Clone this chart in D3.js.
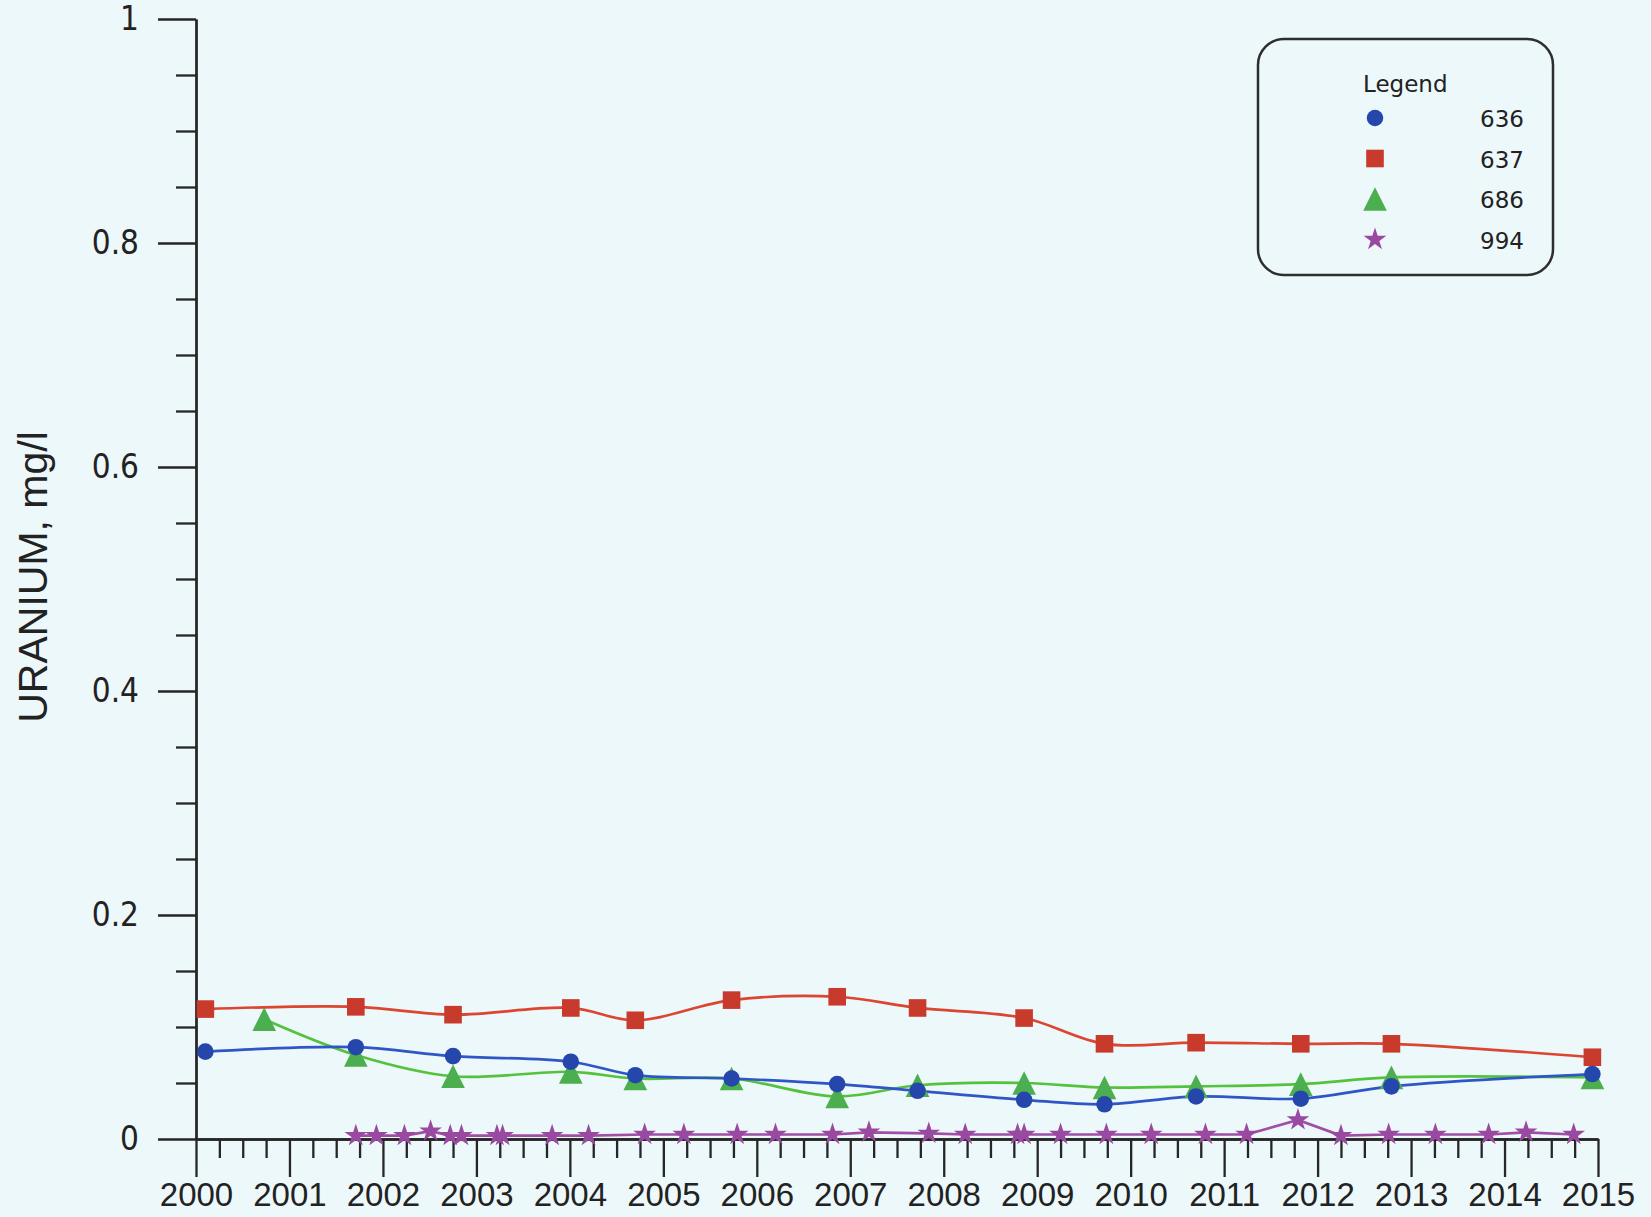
<!DOCTYPE html>
<html>
<head>
<meta charset="utf-8">
<script src="https://cdn.jsdelivr.net/npm/d3@7"></script>
<style>
  html, body { margin: 0; padding: 0; background: #edf8fa; }
  .chart svg { display: block; }
  .axis path, .axis line { stroke: #262626; stroke-width: 2.3; }
  .x-axis text { font-family: "Liberation Sans", Arial, sans-serif; font-size: 33px; fill: #222; }
  .y-axis text { font-family: "DejaVu Sans Condensed", "DejaVu Sans", sans-serif; font-stretch: condensed; font-size: 33px; fill: #222; }
  .legend text { font-family: "DejaVu Sans", sans-serif; font-size: 23px; fill: #222; }
  .title { font-family: "Liberation Sans", Arial, sans-serif; font-size: 41px; fill: #222; }
</style>
</head>
<body>
<div class="chart"></div>
<script>
// sampling dates (decimal years) and uranium values, mg/l
const dates = [2000.10, 2001.71, 2002.75, 2004.01, 2004.70, 2005.73, 2006.86, 2007.72, 2008.86, 2009.72, 2010.70, 2011.82, 2012.79, 2014.94];
const well636 = [0.078, 0.082, 0.074, 0.069, 0.057, 0.054, 0.049, 0.043, 0.035, 0.031, 0.038, 0.036, 0.047, 0.058];
const well637 = [0.116, 0.118, 0.111, 0.117, 0.106, 0.124, 0.127, 0.117, 0.108, 0.085, 0.086, 0.085, 0.085, 0.073];
const dates686 = [2000.73, 2001.71, 2002.75, 2004.01, 2004.70, 2005.73, 2006.86, 2007.72, 2008.86, 2009.72, 2010.70, 2011.82, 2012.79, 2014.94];
const well686 = [0.107, 0.075, 0.056, 0.060, 0.054, 0.054, 0.038, 0.048, 0.050, 0.046, 0.047, 0.049, 0.055, 0.055];
const dates994 = [2001.71, 2001.93, 2002.23, 2002.51, 2002.72, 2002.84, 2003.22, 2003.28, 2003.81, 2004.20, 2004.80,
  2005.22, 2005.79, 2006.20, 2006.81, 2007.20, 2007.84, 2008.23, 2008.79, 2008.86, 2009.25, 2009.74, 2010.22, 2010.80,
  2011.24, 2011.79, 2012.25, 2012.76, 2013.26, 2013.83, 2014.23, 2014.74];
const well994 = [0.003, 0.003, 0.003, 0.007, 0.003, 0.003, 0.003, 0.003, 0.003, 0.003, 0.004,
  0.004, 0.004, 0.004, 0.004, 0.006, 0.005, 0.004, 0.004, 0.004, 0.004, 0.004, 0.004, 0.004,
  0.004, 0.017, 0.003, 0.004, 0.004, 0.004, 0.006, 0.004];

const seriesNames = ['636', '637', '686', '994'];
const yearTicks = d3.range(2000, 2016);
const yTicks = [0, 0.2, 0.4, 0.6, 0.8, 1];

// 三角形: reference triangles are about as tall as wide
const triangle = {
  draw: function (ctx, size) {
    let h = Math.sqrt(size);
    ctx.moveTo(0, -h / 2);
    ctx.lineTo(h / 2, h / 2);
    ctx.lineTo(-h / 2, h / 2);
    ctx.closePath();
  }
};

let chart = {
  svg: {},
  x: {},
  y: {},
  config: {
    svgW: 1651,
    svgH: 1217,
    left: 196,
    right: 1598,
    top: 19,
    bottom: 1139
  },
  styles: {
    '636': { line: '#2f56c6', fill: '#2547ab', type: d3.symbolCircle, size: 215, curve: true },
    '637': { line: '#dc4530', fill: '#c73a2c', type: d3.symbolSquare, size: 310, curve: true },
    '686': { line: '#55c23e', fill: '#4caf4f', type: triangle, size: 560, curve: true },
    '994': { line: '#a04ea6', fill: '#994aa0', type: d3.symbolStar, size: 160, curve: false }
  },
  series: function () {
    let pts = (ts, vs) => ts.map((t, i) => ({ t: t, v: vs[i] }));
    return [
      { name: '994', values: pts(dates994, well994) },
      { name: '686', values: pts(dates686, well686) },
      { name: '637', values: pts(dates, well637) },
      { name: '636', values: pts(dates, well636) }
    ];
  },
  init: function () {
    let c = this.config;
    this.svg = d3.select('.chart').append('svg')
      .attr('width', c.svgW)
      .attr('height', c.svgH);
    this.svg.append('rect')
      .attr('width', c.svgW).attr('height', c.svgH)
      .attr('fill', '#edf8fa');
    this.x = d3.scaleLinear().domain([2000, 2015]).range([c.left, c.right]);
    this.y = d3.scaleLinear().domain([0, 1]).range([c.bottom, c.top]);
    this.axes();
    this.lines();
    this.legend();
  },
  axes: function () {
    let c = this.config;
    // 小刻度 (quarters / 0.05)
    let quarters = d3.range(0, 61).map(i => 2000 + i / 4).filter(d => d % 1 !== 0);
    let twentieths = d3.range(0, 21).map(i => i * 0.05).filter((d, i) => i % 4 !== 0);

    this.svg.append('g')
      .attr('class', 'axis x-axis')
      .attr('transform', `translate(0,${c.bottom})`)
      .call(d3.axisBottom(this.x).tickValues(quarters).tickSize(19).tickSizeOuter(0).tickFormat(''));
    this.svg.append('g')
      .attr('class', 'axis x-axis')
      .attr('transform', `translate(0,${c.bottom})`)
      .call(d3.axisBottom(this.x).tickValues(yearTicks).tickSize(38).tickSizeOuter(0).tickPadding(6).tickFormat(d3.format('d')));

    this.svg.append('g')
      .attr('class', 'axis y-axis')
      .attr('transform', `translate(${c.left},0)`)
      .call(d3.axisLeft(this.y).tickValues(twentieths).tickSize(20).tickSizeOuter(0).tickFormat(''));
    this.svg.append('g')
      .attr('class', 'axis y-axis')
      .attr('transform', `translate(${c.left},0)`)
      .call(d3.axisLeft(this.y).tickValues(yTicks).tickSize(38).tickSizeOuter(0).tickPadding(19).tickFormat(d3.format('~g')));

    // 軸標題
    this.svg.append('text')
      .attr('class', 'title')
      .attr('transform', `translate(47,577) rotate(-90)`)
      .attr('text-anchor', 'middle')
      .text('URANIUM, mg/l');
  },
  lines: function () {
    let x = this.x, y = this.y, styles = this.styles;
    let data = this.series();
    let smooth = d3.line().x(d => x(d.t)).y(d => y(d.v)).curve(d3.curveCatmullRom.alpha(0.5));
    let straight = d3.line().x(d => x(d.t)).y(d => y(d.v));

    this.svg.selectAll('path.series')
      .data(data)
      .enter()
      .append('path')
      .attr('class', 'series')
      .attr('fill', 'none')
      .attr('stroke', d => styles[d.name].line)
      .attr('stroke-width', 2.7)
      .attr('d', d => (styles[d.name].curve ? smooth : straight)(d.values));

    let groups = this.svg.selectAll('g.marks')
      .data(data)
      .enter()
      .append('g')
      .attr('class', 'marks');
    groups.selectAll('path')
      .data(d => d.values.map(p => ({ t: p.t, v: p.v, name: d.name })))
      .enter()
      .append('path')
      .attr('transform', d => `translate(${x(d.t)},${y(d.v)})`)
      .attr('fill', d => styles[d.name].fill)
      .attr('d', d => d3.symbol().type(styles[d.name].type).size(styles[d.name].size)());
  },
  legend: function () {
    let styles = this.styles;
    let g = this.svg.append('g').attr('class', 'legend');
    g.append('rect')
      .attr('x', 1258).attr('y', 39)
      .attr('width', 295).attr('height', 236)
      .attr('rx', 26).attr('ry', 26)
      .attr('fill', 'none')
      .attr('stroke', '#2e2e2e')
      .attr('stroke-width', 2.5);
    g.append('text')
      .attr('x', 1363).attr('y', 92)
      .text('Legend');
    let rows = g.selectAll('g.row')
      .data(seriesNames)
      .enter()
      .append('g')
      .attr('class', 'row')
      .attr('transform', (d, i) => `translate(0,${i * 40.5})`);
    rows.append('path')
      .attr('transform', 'translate(1375,118)')
      .attr('fill', d => styles[d].fill)
      .attr('d', d => d3.symbol().type(styles[d].type).size(styles[d].size)());
    rows.append('text')
      .attr('x', 1524).attr('y', 127)
      .attr('text-anchor', 'end')
      .text(d => d);
  }
};

chart.init();
</script>
</body>
</html>
